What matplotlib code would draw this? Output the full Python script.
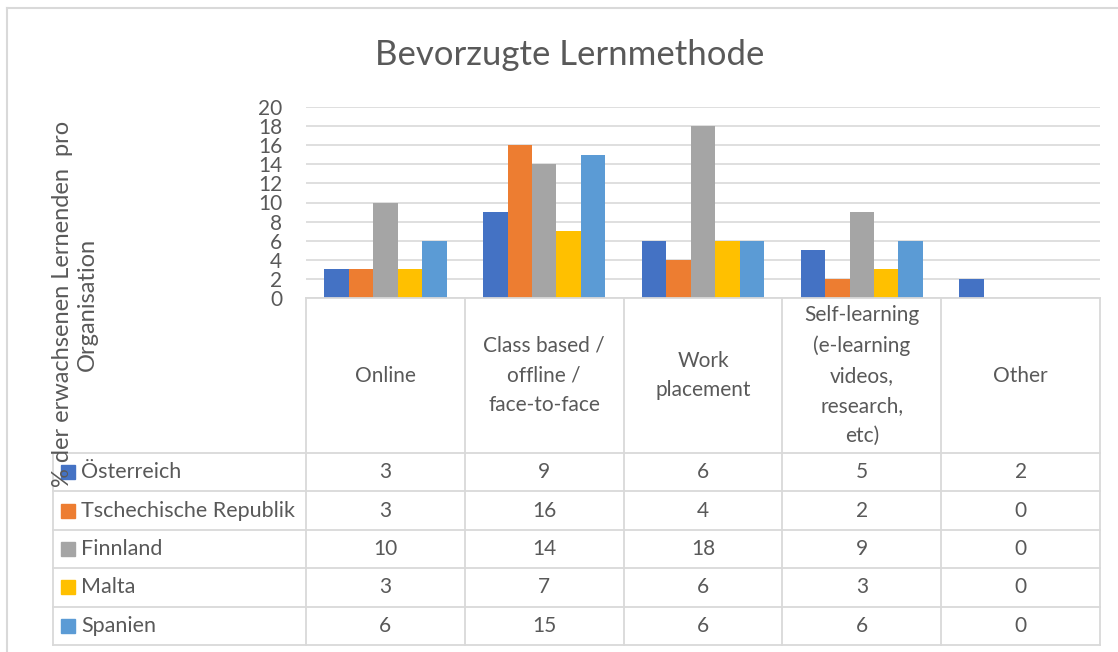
import matplotlib.pyplot as plt
import numpy as np
from matplotlib.lines import Line2D
from matplotlib.patches import Rectangle

plt.rcParams["font.family"] = ["Lato", "DejaVu Sans"]

# Daten
categories = [
    "Online",
    "Class based /\noffline /\nface-to-face",
    "Work\nplacement",
    "Self-learning\n(e-learning\nvideos,\nresearch,\netc)",
    "Other",
]
countries = ["Österreich", "Tschechische Republik", "Finnland", "Malta", "Spanien"]
oesterreich = [3, 9, 6, 5, 2]
tschechien = [3, 16, 4, 2, 0]
finnland = [10, 14, 18, 9, 0]
malta = [3, 7, 6, 3, 0]
spanien = [6, 15, 6, 6, 0]
series = [oesterreich, tschechien, finnland, malta, spanien]
y_ticks = list(range(0, 21, 2))

colors = ["#4472C4", "#ED7D31", "#A5A5A5", "#FFC000", "#5B9BD5"]
text_color = "#595959"
line_color = "#D9D9D9"

W, H = 1118, 652
fig = plt.figure(figsize=(W / 100, H / 100), dpi=100)


def box(left, top, right, bottom):
    """Pixel-Rechteck -> Figure-Koordinaten."""
    return [left / W, 1 - bottom / H, (right - left) / W, (bottom - top) / H]


# Rahmen des Diagramms (links und oben)
fig.add_artist(Line2D([7 / W, 7 / W], [0, 1 - 8 / H], color=line_color, lw=1.5))
fig.add_artist(Line2D([7 / W, 1], [1 - 8 / H, 1 - 8 / H], color=line_color, lw=1.5))

fig.text(570 / W, 1 - 55 / H, "Bevorzugte Lernmethode", fontsize=25,
         color=text_color, ha="center", va="center")

# Balken
ax = fig.add_axes(box(306, 107, 1100, 298))
x = np.arange(len(categories))
bar_w = 0.154
for i, (values, color) in enumerate(zip(series, colors)):
    ax.bar(x + (i - 2) * bar_w, values, bar_w, color=color)
ax.set_xlim(-0.5, len(categories) - 0.5)
ax.set_ylim(0, 20)
ax.set_yticks(y_ticks)
ax.set_xticks([])
ax.yaxis.grid(True, color=line_color, lw=1.2)
ax.set_axisbelow(True)
for spine in ax.spines.values():
    spine.set_visible(False)
ax.tick_params(axis="y", length=0, labelsize=15, labelcolor=text_color, pad=17)

fig.text(75 / W, 1 - 304 / H, "% der erwachsenen Lernenden  pro\nOrganisation",
         rotation=90, fontsize=17, color=text_color, ha="center", va="center",
         linespacing=1.25)

# Datentabelle
cat_px = (1100 - 306) / len(categories)
left = -0.5 - (306 - 53) / cat_px
header_h = 155
row_h = 38.4
table_h = header_h + row_h * len(countries)
tab = fig.add_axes(box(53, 298, 1100, 298 + table_h))
tab.set_xlim(left, len(categories) - 0.5)
tab.set_ylim(table_h, 0)
tab.axis("off")

for xv in np.arange(-0.5, len(categories), 1.0):
    tab.plot([xv, xv], [0, table_h], color=line_color, lw=1.3, clip_on=False)
tab.plot([left, left], [header_h, table_h], color=line_color, lw=1.3, clip_on=False)
tab.plot([-0.5, len(categories) - 0.5], [0, 0], color=line_color, lw=1.3, clip_on=False)
for k in range(len(countries) + 1):
    yv = header_h + k * row_h
    tab.plot([left, len(categories) - 0.5], [yv, yv], color=line_color, lw=1.3,
             clip_on=False)

for j, cat in enumerate(categories):
    tab.text(j, header_h / 2, cat, ha="center", va="center", fontsize=15,
             color=text_color, linespacing=1.62)

for i, (name, values, color) in enumerate(zip(countries, series, colors)):
    yc = header_h + (i + 0.5) * row_h
    tab.add_patch(Rectangle((left + 8 / cat_px, yc - 7), 14 / cat_px, 14,
                            color=color, clip_on=False))
    tab.text(left + 28 / cat_px, yc, name, ha="left", va="center", fontsize=15.5,
             color=text_color)
    for j, v in enumerate(values):
        tab.text(j, yc, str(v), ha="center", va="center", fontsize=15,
                 color=text_color)

fig.savefig("out.png", dpi=100)
